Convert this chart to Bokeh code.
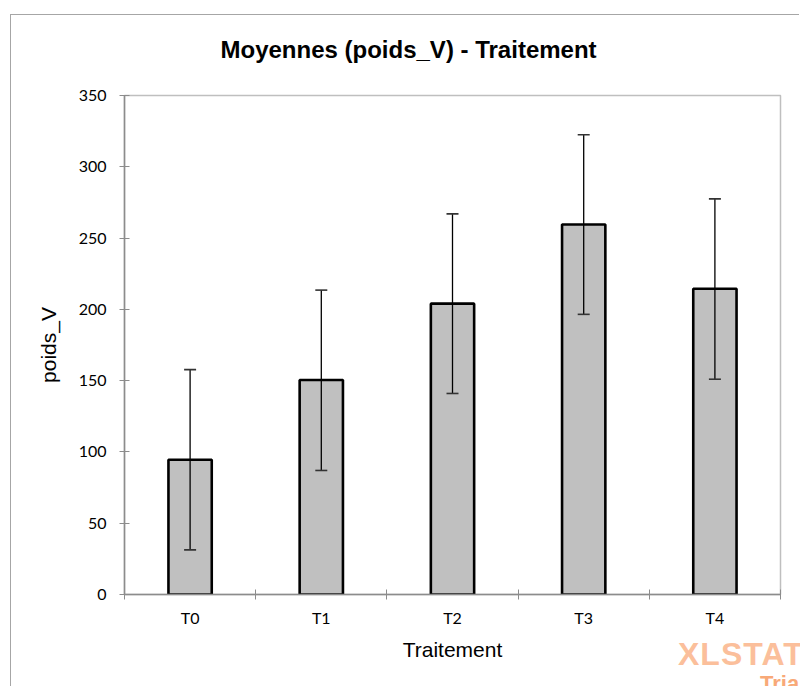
from bokeh.plotting import figure
from bokeh.layouts import column
from bokeh.models import (Range1d, FixedTicker, Whisker, Div,
                          ColumnDataSource, TeeHead)
from bokeh.embed import file_html
from bokeh.resources import INLINE

# ---- data ----
categories = ["T0", "T1", "T2", "T3", "T4"]
means = [94.5, 150.5, 204.0, 259.5, 214.5]
lower = [31.3, 87.0, 141.0, 196.5, 151.0]
upper = [157.7, 213.5, 267.0, 322.5, 277.5]
y_ticks = [0, 50, 100, 150, 200, 250, 300, 350]
title_text = "Moyennes (poids_V) - Traitement"
x_label = "Traitement"
y_label = "poids_V"
wm_line1 = "XLSTAT"
wm_line2 = "Trial"

xpos = [i + 0.5 for i in range(len(categories))]
src = ColumnDataSource(dict(x=xpos, top=means, lower=lower, upper=upper, cat=categories))

p = figure(width=789, height=672, output_backend="svg", toolbar_location=None,
           x_range=Range1d(0, len(categories)), y_range=Range1d(y_ticks[0], y_ticks[-1]),
           min_border_left=113, min_border_right=20, min_border_top=80, min_border_bottom=93)
p.margin = (14, 0, 0, 10)
p.styles = {"border-top": "1px solid #a6a6a6", "border-left": "1px solid #a6a6a6"}

p.title.text = title_text
p.title.align = "left"
p.title.offset = 96
p.title.text_font = "Liberation Sans"
p.title.text_font_style = "bold"
p.title.text_font_size = "24px"
p.title.text_color = "black"
p.title.standoff = 10
p.title.padding = dict(left=0, right=0, top=0, bottom=28)

p.grid.visible = False
p.outline_line_color = "#bfbfbf"
p.outline_line_width = 1.5
p.background_fill_color = "white"
p.border_fill_color = "white"

p.vbar(x="x", top="top", bottom=0, width=0.33, fill_color="#c0c0c0",
       line_color="black", line_width=2.6, source=src)

w = Whisker(base="x", lower="lower", upper="upper", source=src,
            line_color="black", line_width=1.3,
            upper_head=TeeHead(size=12, line_color="#333333", line_width=1.6),
            lower_head=TeeHead(size=12, line_color="#333333", line_width=1.6))
w.level = "annotation"
p.add_layout(w)

axis_col = "#8c8c8c"
# x axis
xa = p.xaxis[0]
xa.ticker = FixedTicker(ticks=xpos, minor_ticks=list(range(len(categories) + 1)))
xa.major_label_overrides = {xv: c for xv, c in zip(xpos, categories)}
xa.major_tick_line_color = None
xa.major_tick_out = 5
xa.minor_tick_line_color = axis_col
xa.minor_tick_in = 5
xa.minor_tick_out = 5
xa.axis_line_color = axis_col
xa.axis_line_width = 1.5
xa.major_label_text_font = "Lato"
xa.major_label_text_font_size = "16px"
xa.major_label_text_color = "black"
xa.major_label_standoff = 8
xa.axis_label = x_label
xa.axis_label_text_font = "Liberation Sans"
xa.axis_label_text_font_style = "normal"
xa.axis_label_text_font_size = "21px"
xa.axis_label_text_color = "black"
xa.axis_label_standoff = 8

# y axis
ya = p.yaxis[0]
ya.ticker = FixedTicker(ticks=y_ticks)
ya.minor_tick_line_color = None
ya.major_tick_in = 5
ya.major_tick_out = 5
ya.major_tick_line_color = axis_col
ya.axis_line_color = axis_col
ya.axis_line_width = 1.5
ya.major_label_text_font = "Lato"
ya.major_label_text_font_size = "16px"
ya.major_label_text_color = "black"
ya.major_label_standoff = 13
ya.axis_label = y_label
ya.axis_label_text_font = "Liberation Sans"
ya.axis_label_text_font_style = "normal"
ya.axis_label_text_font_size = "21px"
ya.axis_label_text_color = "black"
ya.axis_label_standoff = 16

# watermark (overlaid over the bottom-right corner, cut by the window edge)
wm_html = (
    '<div style="font-family:\'Liberation Sans\';font-weight:bold;line-height:1;'
    'padding-top:9px;padding-left:10px;color:#fbbf9b;font-size:32px;'
    'letter-spacing:1px;white-space:nowrap">'
    + wm_line1 + '</div>'
    '<div style="font-family:\'Liberation Sans\';font-weight:bold;line-height:1;'
    'margin-top:3px;padding-left:92px;color:#f8a978;font-size:22px;white-space:nowrap">'
    + wm_line2 + '</div>'
)
wm = Div(text=wm_html, width=132, height=57, margin=(-57, 0, 0, 668),
         styles={"overflow": "hidden"})

layout = column(p, wm, spacing=0)

open("out.html", "w").write(file_html(layout, INLINE))
